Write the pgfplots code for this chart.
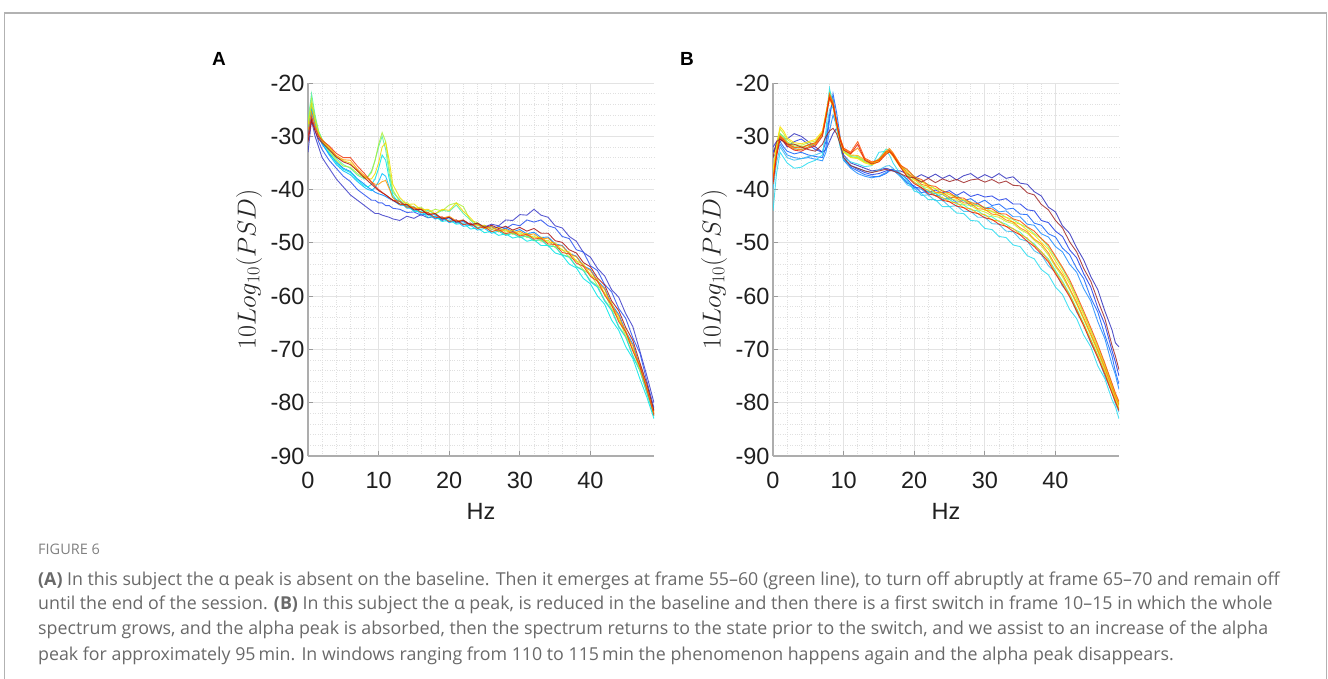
\RequirePackage{fix-cm}
\documentclass[border=0pt]{standalone}
\usepackage{pgfplots}
\pgfplotsset{compat=1.18}
\usepackage{pgfplotstable}
\usepackage{fontspec}
\setmainfont{Liberation Sans}
\newfontfamily\capfont{Open Sans}

\definecolor{ja1}{RGB}{60,60,200}
\definecolor{ja2}{RGB}{40,80,240}
\definecolor{ja3}{RGB}{0,130,255}
\definecolor{ja4}{RGB}{0,190,255}
\definecolor{ja5}{RGB}{0,230,230}
\definecolor{ja6}{RGB}{80,240,160}
\definecolor{ja7}{RGB}{170,240,60}
\definecolor{ja8}{RGB}{240,220,0}
\definecolor{ja9}{RGB}{255,150,0}
\definecolor{ja10}{RGB}{240,60,20}
\definecolor{ja11}{RGB}{170,20,20}

\definecolor{jb1}{RGB}{50,50,190}
\definecolor{jb2}{RGB}{30,60,230}
\definecolor{jb3}{RGB}{20,100,250}
\definecolor{jb4}{RGB}{30,140,255}
\definecolor{jb5}{RGB}{60,190,240}
\definecolor{jb6}{RGB}{40,220,240}
\definecolor{jb7}{RGB}{60,240,190}
\definecolor{jb8}{RGB}{130,245,110}
\definecolor{jb9}{RGB}{200,240,40}
\definecolor{jb10}{RGB}{255,225,0}
\definecolor{jb11}{RGB}{255,180,0}
\definecolor{jb12}{RGB}{255,130,0}
\definecolor{jb13}{RGB}{255,80,0}
\definecolor{jb14}{RGB}{230,30,10}
\definecolor{jb15}{RGB}{160,40,40}
\definecolor{captxt}{RGB}{105,105,105}

\pgfplotstableread{
x c1 c2 c3 c4 c5 c6 c7 c8 c9 c10 c11
0 -33 -30 -29.5 -28 -28.5 -27 -27.5 -28 -29 -30 -31
0.5 -27 -26 -25 -24.5 -24 -22 -23 -24 -25.5 -26.5 -27
1 -30 -29 -28 -27.5 -27 -26 -26.5 -27 -28 -28.5 -29
1.5 -32 -31 -30 -29.8 -29.5 -29 -29.2 -29.5 -29.8 -30 -30.5
2 -34 -32.5 -31.5 -31.3 -31 -30.5 -30.7 -31 -30.6 -30.8 -31.2
3 -36 -34.5 -33.3 -33.5 -33 -32.5 -32.8 -32.2 -32 -31.8 -32.5
4 -38 -36 -34.8 -35.3 -35 -34.2 -34.5 -33.8 -33.6 -33.2 -33.9
5 -39.5 -37.5 -36 -36.5 -36.2 -35.3 -35.6 -34.6 -34.4 -34 -34.8
6 -41 -38.5 -36.6 -37.2 -36.8 -36 -35.8 -35 -34.5 -34 -35.3
7 -42 -40 -38 -38.5 -38.2 -37.3 -37 -36.5 -36.2 -35.6 -36.5
8 -43 -41 -39 -39.6 -39.3 -38 -37.8 -37.6 -37.4 -37 -37.8
8.5 -43.5 -41.5 -39.6 -40 -39.5 -37.5 -37.6 -38 -38 -37.8 -38.4
9 -44 -42 -40 -40.2 -39 -36.5 -36.8 -38 -38.6 -38.6 -39
9.5 -44.5 -42 -40.5 -39.6 -38 -34.5 -34.5 -37 -39 -39.3 -39.6
10 -44.5 -42.5 -40.8 -38.5 -36 -32 -31.5 -35 -39 -40 -40.2
10.5 -44.8 -42.5 -41 -37 -33.5 -30 -29.3 -32 -38.5 -40.5 -40.6
11 -45 -43 -41.3 -37.5 -34.5 -32.5 -31 -31.2 -38.3 -41 -41
11.5 -45.2 -43 -41.7 -39.5 -38 -37 -36 -34.5 -39.8 -41.5 -41.5
12 -45.5 -43.5 -42 -41.5 -41 -40.5 -40 -39 -41.5 -42 -42
13 -45.8 -43.7 -42.9 -42.2 -42.8 -41.9 -42.3 -41.5 -42.8 -42.2 -42.7
14 -45.0 -44.3 -43.0 -43.5 -43.0 -43.3 -42.4 -42.8 -42.7 -43.3 -42.8
15 -45.4 -44.2 -43.9 -43.5 -44.1 -43.2 -43.5 -42.7 -43.6 -43.3 -43.8
16 -44.7 -44.8 -43.7 -44.6 -44.1 -44.3 -43.3 -43.8 -43.5 -44.3 -43.7
17 -45.3 -44.5 -44.8 -44.5 -45.2 -43.9 -44.3 -43.7 -44.6 -44.3 -44.7
18 -45.0 -45.5 -44.7 -45.5 -45.0 -44.6 -43.7 -44.5 -44.5 -45.3 -44.5
19 -45.8 -45.2 -45.6 -45.3 -46.0 -43.9 -44.0 -43.7 -45.4 -45.1 -45.5
20 -45.2 -46.1 -45.3 -46.2 -45.7 -44.1 -42.9 -43.9 -45.0 -46.0 -45.2
21 -46.1 -45.7 -46.3 -45.9 -46.5 -42.9 -42.5 -42.5 -45.9 -45.7 -46.1
22 -45.7 -46.6 -46.0 -46.9 -46.3 -44.5 -43.2 -44.1 -45.7 -46.6 -45.8
23 -46.6 -46.3 -46.8 -46.7 -47.4 -45.7 -45.8 -45.3 -46.7 -46.3 -46.6
24 -46.3 -47.2 -46.5 -47.6 -47.2 -47.1 -46.2 -46.8 -46.5 -47.3 -46.3
25 -47.0 -46.7 -47.3 -47.3 -48.1 -46.9 -47.3 -46.7 -47.3 -47.0 -47.1
26 -46.5 -47.5 -46.9 -48.2 -47.8 -47.9 -47.0 -47.5 -47.0 -47.9 -46.7
27 -46.8 -46.9 -47.7 -47.8 -48.6 -47.6 -47.9 -47.1 -47.8 -47.5 -47.3
28 -45.7 -47.3 -47.2 -48.6 -48.3 -48.5 -47.6 -48.0 -47.4 -48.3 -46.9
29 -45.8 -46.5 -47.9 -48.2 -49.1 -48.1 -48.4 -47.6 -48.2 -47.9 -47.6
30 -44.7 -46.8 -47.5 -49.0 -48.8 -49.0 -48.1 -48.5 -47.8 -48.7 -47.1
31 -44.8 -45.7 -48.3 -48.7 -49.7 -48.7 -49.0 -48.2 -48.6 -48.4 -47.8
32 -43.7 -46.1 -48.0 -49.6 -49.4 -49.6 -48.7 -49.1 -48.3 -49.3 -47.3
33 -44.8 -45.7 -49.0 -49.4 -50.5 -49.4 -49.7 -48.9 -49.3 -49.1 -48.2
34 -45.2 -46.8 -48.9 -50.6 -50.5 -50.5 -49.5 -49.9 -49.1 -50.2 -48.2
35 -46.8 -47.2 -50.2 -50.7 -51.9 -50.7 -50.9 -50.0 -50.4 -50.3 -49.6
36 -47.2 -48.8 -50.5 -52.3 -52.3 -52.2 -51.2 -51.4 -50.6 -51.8 -49.9
37 -48.8 -49.2 -52.0 -52.7 -54.0 -52.6 -52.7 -51.7 -52.1 -52.1 -51.3
38 -49.7 -51.3 -52.5 -54.5 -54.7 -54.4 -53.3 -53.4 -52.6 -53.8 -51.9
39 -51.8 -51.7 -54.3 -55.2 -56.7 -55.1 -55.1 -54.0 -54.4 -54.4 -53.7
40 -52.7 -54.3 -55.0 -57.3 -57.7 -57.1 -55.9 -56.0 -55.2 -56.3 -54.5
41 -54.8 -55.2 -57.1 -58.3 -60.0 -58.1 -58.0 -56.9 -57.3 -57.2 -56.6
42 -56.2 -57.8 -58.5 -60.9 -61.5 -60.7 -59.4 -59.5 -58.7 -59.8 -57.9
43 -58.8 -59.2 -61.5 -62.7 -64.5 -62.5 -62.4 -61.3 -61.8 -61.7 -60.9
44 -60.2 -62.3 -63.4 -65.8 -66.4 -65.6 -64.3 -64.4 -63.7 -64.8 -62.7
45 -63.3 -64.2 -66.6 -67.7 -69.5 -67.6 -67.5 -66.5 -66.9 -66.7 -65.9
46 -65.7 -67.8 -69.0 -71.3 -71.7 -71.1 -69.9 -70.1 -69.3 -70.3 -68.3
47 -70.3 -70.7 -73.1 -74.0 -75.5 -73.9 -73.9 -72.9 -73.4 -73.2 -72.5
48 -75 -76 -77 -78.2 -79 -78.2 -77.6 -77.3 -77.2 -77.6 -76.5
48.5 -77.5 -78.5 -79.3 -80.3 -81 -80.3 -79.8 -79.6 -79.5 -79.9 -79
49 -80 -81 -81.6 -82.5 -83 -82.5 -82.2 -82 -81.9 -82.4 -81.5
}\tabA

\pgfplotstableread{
x b1 b2 b3 b4 b5 b6 b7 b8 b9 b10 b11 b12 b13 b14 b15
0 -33 -32 -33 -34 -40 -44 -39 -37.5 -37 -36.5 -38 -38.5 -38 -39 -34
0.5 -31.5 -31 -32 -33 -35 -37 -33.5 -32.5 -32 -31.5 -33 -33.5 -33 -33.8 -31
1 -31 -30 -31 -31.5 -32 -33 -29.5 -29.5 -28.6 -28.2 -29.8 -30.2 -30 -30.5 -30.5
1.5 -30.5 -31 -32 -32.5 -33 -34 -30.2 -30 -29.5 -29 -30.4 -30.8 -30.6 -31 -31
2 -30.5 -32 -32.8 -33.5 -34 -35 -31.3 -31 -30.6 -30.3 -31.2 -31.6 -31.4 -31.8 -31.5
3 -29.5 -31 -33.3 -34 -34.5 -36 -32.3 -31.8 -31.5 -31.2 -32 -32.4 -32.1 -32.6 -31.5
4 -30 -30.5 -33 -34.2 -34.2 -35.8 -32.5 -32 -31.7 -31.4 -32.1 -32.5 -32.2 -32.8 -32
5 -31 -31.5 -33.5 -34 -33.8 -35 -32 -31.6 -31.2 -31 -31.7 -32 -31.6 -32.2 -32.5
6 -32 -32.5 -33.8 -34.3 -33.5 -34.5 -31.4 -31.2 -30.9 -30.6 -31.3 -31.5 -31.2 -31.8 -32.8
7 -33 -33 -34 -34.6 -33 -33.5 -29.8 -29.6 -29.3 -29 -29.7 -29.5 -29.4 -30 -31.5
7.5 -32.5 -31 -32 -33 -30 -29 -26 -26.2 -25.8 -25.5 -26.3 -26 -26.1 -26.6 -30
8 -31 -26 -27 -29 -25 -21 -21.5 -22 -22.5 -23 -23 -22 -22.3 -22.8 -29
8.5 -29.5 -23 -22 -26 -24.5 -24 -23.5 -23.8 -24.2 -24.5 -24.2 -23.6 -23.9 -24.1 -28.5
9 -28.5 -27 -25.5 -28 -28 -28.5 -27.6 -27.5 -27.8 -28 -27.4 -27.2 -27.3 -27.6 -29.5
9.5 -30.5 -31 -30 -31.5 -31.5 -32 -30.8 -30.6 -30.8 -31 -30.4 -30.3 -30.4 -30.7 -31.5
10 -33.5 -34.5 -34 -34.5 -34.5 -34 -32.8 -32.6 -32.9 -33 -32.4 -32.3 -32.2 -32.6 -34
11 -35 -35.5 -35.8 -36 -35.5 -34.8 -33.8 -33.6 -33.9 -34 -33.5 -33.2 -33 -33.3 -35.5
12 -35.5 -36.2 -36.5 -37 -36 -35.2 -34 -33.8 -34 -34.2 -33.6 -32.2 -31 -31.5 -36
13 -36 -36.8 -37.2 -37.5 -36.5 -35.7 -34.8 -34.6 -34.8 -35 -34.4 -34.3 -34.1 -34.5 -36.5
14 -36.5 -37.2 -37.5 -37.8 -36.8 -35.5 -35.2 -35.1 -35.3 -35.4 -35 -35 -34.8 -35.2 -36.8
15 -36.3 -37 -37.6 -37.5 -36.3 -33 -34.2 -34.4 -34.6 -34.7 -34.5 -34.3 -34.5 -34.8 -36.5
16 -36 -36.5 -37 -36.8 -35.6 -32.8 -32.4 -32.9 -33.1 -33.2 -33 -32.8 -33 -33.4 -36.2
16.5 -36.2 -36.3 -36.5 -36.4 -35.5 -33.5 -32.6 -32.6 -32.8 -32.9 -32.7 -32.3 -32.6 -32.9 -36.4
17 -36.5 -36.2 -36.4 -36.3 -36 -35 -33.6 -33.4 -33.6 -33.8 -33.5 -33.1 -33.3 -33.6 -36.5
18 -36.5 -37 -37.3 -37.5 -37.5 -37 -35.7 -35.5 -35.6 -35.8 -35.4 -35.2 -35.4 -35.7 -37
19 -37 -38.0 -38.8 -38.5 -39.1 -38.2 -37.3 -36.4 -37.2 -36.6 -37.5 -36.9 -36.2 -37.6 -37.6
20 -37.9 -39.6 -39.3 -39.9 -39.7 -40.3 -38.7 -37.5 -38.1 -38.2 -38.6 -37.8 -37.6 -38.9 -37.8
21 -37.2 -39.7 -40.6 -39.9 -41.1 -40.7 -39.2 -38.6 -39.3 -38.4 -39.7 -39.0 -38.1 -39.6 -38.6
22 -37.8 -40.5 -40.3 -41.0 -41.0 -41.9 -40.4 -39.0 -39.7 -39.5 -40.1 -39.4 -39.2 -40.8 -37.9
23 -37.1 -40.1 -41.2 -40.7 -42.1 -41.9 -40.7 -39.9 -40.6 -39.8 -41.2 -40.5 -39.4 -41.1 -38.7
24 -37.9 -40.6 -40.9 -41.9 -42.0 -43.2 -41.6 -40.1 -40.9 -40.7 -41.5 -40.6 -40.3 -42.0 -38.0
25 -37.3 -40.2 -41.8 -41.5 -43.2 -43.2 -41.9 -41.0 -41.7 -40.9 -42.3 -41.4 -40.6 -42.3 -38.5
26 -38.2 -41.1 -41.1 -42.4 -43.0 -44.4 -42.7 -41.2 -42.0 -41.7 -42.5 -41.6 -41.5 -43.1 -38.1
27 -37.4 -40.4 -42.1 -42.0 -44.1 -44.5 -42.9 -42.1 -42.8 -41.9 -43.4 -42.5 -41.6 -43.4 -38.7
28 -37.0 -41.3 -41.7 -43.1 -44.1 -45.8 -43.8 -42.3 -43.0 -42.8 -43.6 -42.6 -42.5 -44.2 -38.2
29 -37.9 -40.9 -42.6 -42.7 -45.2 -45.9 -44.0 -43.2 -43.8 -43.0 -44.5 -43.6 -42.6 -44.5 -38.0
30 -37.2 -41.4 -42.0 -43.5 -45.2 -47.3 -44.9 -43.3 -44.2 -43.9 -44.7 -43.7 -43.5 -45.3 -38.6
31 -37.8 -41.2 -43.0 -43.2 -46.4 -47.5 -45.1 -44.2 -44.9 -44.0 -45.7 -44.6 -43.6 -45.6 -38.1
32 -37.0 -42.0 -42.7 -44.2 -46.5 -48.8 -46.0 -44.4 -45.2 -44.9 -45.9 -44.8 -44.5 -46.5 -38.8
33 -37.9 -41.7 -43.7 -44.0 -47.8 -49.0 -46.5 -45.2 -46.0 -45.2 -46.9 -45.7 -44.6 -46.9 -38.4
34 -37.6 -42.7 -43.5 -45.1 -47.9 -50.4 -47.4 -45.6 -46.4 -46.1 -47.3 -46.1 -45.5 -47.8 -39.2
35 -38.8 -42.7 -44.6 -45.1 -49.3 -50.7 -48.0 -46.5 -47.5 -46.5 -48.4 -47.2 -45.9 -48.5 -39.3
36 -39.0 -43.8 -44.7 -46.5 -49.7 -52.4 -49.3 -47.1 -48.2 -47.6 -49.1 -47.9 -47.0 -49.7 -40.6
37 -40.4 -44.0 -46.3 -46.7 -51.5 -53.0 -50.2 -48.3 -49.5 -48.5 -50.5 -49.3 -47.8 -50.7 -41.0
38 -41.2 -45.8 -46.7 -48.3 -52.2 -55.0 -51.8 -49.2 -50.6 -49.9 -51.6 -50.2 -49.2 -52.1 -42.8
39 -43.3 -46.2 -48.3 -48.9 -54.3 -56.0 -53.0 -50.8 -52.3 -51.2 -53.3 -51.9 -50.4 -53.6 -43.8
40 -44.2 -47.8 -48.9 -50.7 -55.5 -58.3 -55.2 -52.8 -54.5 -53.4 -55.5 -54.2 -52.5 -55.8 -45.8
41 -46.8 -48.8 -51.0 -51.7 -58.1 -59.7 -57.2 -54.9 -56.4 -55.5 -57.5 -56.0 -54.6 -57.9 -47.2
42 -48.2 -51.3 -52.2 -54.0 -59.7 -62.5 -59.6 -57.3 -58.8 -57.7 -59.8 -58.5 -56.9 -60.1 -49.8
43 -50.9 -52.8 -54.8 -55.5 -63.0 -64.2 -62.3 -60.2 -61.5 -60.6 -62.5 -61.2 -59.8 -62.8 -51.7
44 -53.2 -55.8 -56.7 -58.6 -65.2 -67.3 -65.2 -63.2 -64.4 -63.5 -65.3 -64.1 -62.8 -65.6 -54.8
45 -56.3 -58.3 -60.3 -60.9 -68.8 -69.5 -68.1 -66.3 -67.4 -66.6 -68.2 -67.1 -65.9 -68.6 -57.2
46 -58.8 -62.2 -63.0 -64.8 -71.3 -73.1 -71.1 -69.5 -70.5 -69.8 -71.2 -70.2 -69.1 -71.6 -60.8
47 -62.8 -65.3 -67.3 -68.0 -75.1 -75.5 -74.3 -72.9 -73.8 -73.2 -74.3 -73.5 -72.6 -74.7 -64.2
48 -66.3 -70.2 -71.2 -72.8 -78.0 -79.4 -77.9 -76.6 -77.4 -76.8 -77.9 -77.1 -76.3 -78.2 -69.2
48.5 -68.8 -72.4 -74.2 -74.8 -80.2 -80.8 -79.7 -78.5 -79.2 -78.6 -79.6 -78.9 -78.2 -79.9 -71.3
49 -69.5 -75 -76.5 -77.5 -81.8 -83 -81.3 -80.1 -80.7 -80.2 -81.1 -80.4 -79.8 -81.5 -73.8
}\tabB

\pgfplotsset{
  psd/.style={
    scale only axis, width=346pt, height=373pt,
    xmin=0, xmax=49, ymin=-90, ymax=-20,
    axis lines=left,
    axis line style={-, draw=black!32, line width=1.4pt},
    xtick={0,10,20,30,40}, xticklabels={0,10,20,30,40},
    ytick={-90,-80,-70,-60,-50,-40,-30,-20},
    yticklabels={-90,-80,-70,-60,-50,-40,-30,-20},
    minor x tick num=4, minor y tick num=4,
    grid=both,
    major grid style={draw=black!11, line width=0.8pt},
    minor grid style={draw=black!12, dotted, line width=0.7pt},
    tick align=inside, major tick length=5pt, minor tick length=0pt,
    tick style={draw=black!40, line width=0.8pt},
    ticklabel style={font=\fontsize{23.5}{26}\selectfont, text=black!88},
    xticklabel style={yshift=-13pt},
    xlabel={Hz}, ylabel={$10Log_{10}(PSD)$},
    xlabel style={font=\fontsize{23.5}{26}\selectfont, text=black!88,
      at={(axis description cs:0.5,0)}, anchor=center, yshift=-55pt},
    ylabel style={font=\fontsize{26}{28}\selectfont, text=black!85,
      at={(axis description cs:0,0.5)}, anchor=center, yshift=59pt},
    every axis plot/.append style={line width=0.9pt, opacity=0.85, mark=none},
  }
}

\begin{document}
\begin{tikzpicture}[x=1pt,y=1pt]
\useasboundingbox (0,0) rectangle (1328,678);
\draw[black!30, line width=1.6pt] (4.5,-2) -- (4.5,665) -- (1326.5,665) -- (1326.5,-2);

\begin{axis}[psd, at={(308pt,222pt)}, anchor=south west]
\foreach \k in {1,...,11}{
  \edef\tmp{\noexpand\addplot[ja\k] table[x=x,y=c\k]{\noexpand\tabA};}
  \tmp
}
\end{axis}

\begin{axis}[psd, at={(773pt,222pt)}, anchor=south west]
\foreach \k in {1,...,15}{
  \edef\tmp{\noexpand\addplot[jb\k] table[x=x,y=b\k]{\noexpand\tabB};}
  \tmp
}
\end{axis}

\node[font=\fontsize{19}{20}\selectfont\bfseries] at (219,619) {A};
\node[font=\fontsize{19}{20}\selectfont\bfseries] at (687,619) {B};

\node[anchor=west, text=black!50, font=\capfont\fontsize{14.5}{16}\selectfont, inner sep=0pt] at (38,129) {FIGURE 6};
\begin{scope}[every node/.style={anchor=west, text=captxt, font=\capfont\fontsize{17.8}{20}\selectfont, inner sep=0pt}]
\node at (38,97) {\textbf{(A)} In this subject the α peak is absent on the baseline. Then it emerges at frame 55–60 (green line), to turn off abruptly at frame 65–70 and remain off};
\node at (38,73) {until the end of the session. \textbf{(B)} In this subject the α peak, is reduced in the baseline and then there is a first switch in frame 10–15 in which the whole};
\node at (38,48) {spectrum grows, and the alpha peak is absorbed, then the spectrum returns to the state prior to the switch, and we assist to an increase of the alpha};
\node at (38,22) {peak for approximately 95\,min. In windows ranging from 110 to 115\,min the phenomenon happens again and the alpha peak disappears.};
\end{scope}
\end{tikzpicture}
\end{document}
